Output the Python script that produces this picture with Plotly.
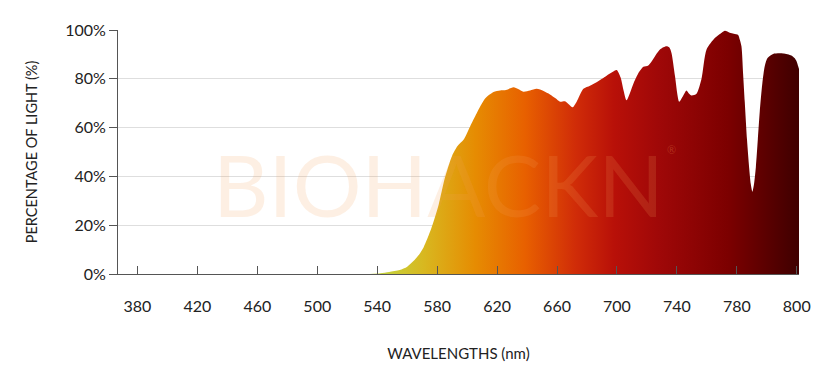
import plotly.graph_objects as go

# Wavelength positions (axis units, linear; the last tick at 820 is labelled "800" as in the source)
wavelength = [535, 542, 548, 555, 560, 564, 568, 571, 576, 581, 585, 590, 593.6, 597.6, 602,
              606.4, 612, 617.6, 622, 626, 631, 634, 637.6, 642, 646.4, 651, 655.3, 659, 662,
              665.3, 668, 670.4, 673.1, 677.6, 682, 686.4, 690, 693.1, 697, 699.8, 702.4, 704.5,
              706.4, 710.9, 714, 717.6, 720.9, 723, 728.7, 733.1, 735, 736.4, 738.7, 741.6, 743.8,
              746.4, 748, 749.8, 753.1, 756.4, 759.8, 765.3, 769, 772, 775.3, 778, 780.9, 782,
              783.1, 784.2, 785.3, 786.8, 788.2, 789.3, 790.4, 791.5, 792.7, 794, 795.3, 797,
              798.7, 800.5, 804.2, 810.9, 816.4, 818.5, 819.8, 821, 821.5]
percent = [0, 0.3, 0.8, 1.6, 3.0, 5.2, 8.0, 11, 18.5, 28.4, 39, 48.5, 52.5, 55, 60.5,
           65.9, 71.9, 74.6, 75.2, 75.4, 76.5, 75.8, 74.7, 75.2, 75.9, 75, 73.6, 72, 70.6,
           70.8, 69.5, 68.3, 70.6, 75.9, 77.2, 78.6, 80, 81.3, 82.8, 83.6, 80.6, 75,
           71.2, 77.9, 82, 84.9, 85.5, 87, 92, 93.3, 92.8, 90.6, 81.3, 70.6, 72.6,
           75.2, 74, 73.2, 73.9, 79.9, 92, 96.7, 98.5, 99.7, 98.9, 98.5, 98, 96,
           93.3, 82, 70.6, 55, 43.8, 37, 33.7, 37, 43.8, 55, 66.5, 78,
           85.3, 88.5, 90.2, 90.4, 89.6, 88.5, 87.3, 85, 84]

tick_vals = [380, 420, 460, 500, 540, 580, 620, 660, 700, 740, 780, 820]
tick_text = ["380", "420", "460", "500", "540", "580", "620", "660", "700", "740", "780", "800"]
y_ticks = [0, 20, 40, 60, 80, 100]
y_text = ["0%", "20%", "40%", "60%", "80%", "100%"]

gradient = [
    [0.00, "#c8d848"],
    [0.04, "#c6d03a"],
    [0.125, "#d8b820"],
    [0.245, "#e68c02"],
    [0.362, "#e86000"],
    [0.48, "#d02c08"],
    [0.57, "#b81008"],
    [0.67, "#a00808"],
    [0.835, "#7c0000"],
    [0.975, "#480000"],
    [1.00, "#400000"],
]

FONT = "Lato"

fig = go.Figure()
fig.add_trace(go.Scatter(
    x=wavelength, y=percent, mode="lines",
    line=dict(width=0, color="rgba(0,0,0,0)", shape="spline", smoothing=0.7),
    fill="tozeroy",
    fillgradient=dict(type="horizontal", colorscale=gradient, start=535, stop=821.5),
    hoverinfo="skip", showlegend=False,
))

# faint watermark
fig.add_annotation(x=0.47, y=0.37, xref="paper", yref="paper", text="BIOHACKN",
                   showarrow=False, xanchor="center", yanchor="middle",
                   font=dict(family=FONT, size=86, color="rgba(245,160,90,0.17)", weight=400))
fig.add_annotation(x=0.822, y=0.51, xref="paper", yref="paper", text="®",
                   showarrow=False, font=dict(family=FONT, size=11, color="rgba(245,160,90,0.28)"))

fig.update_layout(
    width=832, height=368,
    margin=dict(l=110, r=41, t=17, b=102),
    paper_bgcolor="white", plot_bgcolor="white",
    font=dict(family=FONT, color="#222222"),
    xaxis=dict(
        range=[367, 821.5], tickvals=tick_vals, ticktext=tick_text,
        ticks="inside", ticklen=8, tickcolor="#555555", tickwidth=1,
        showline=True, linecolor="#555555", linewidth=1,
        showgrid=False, zeroline=False,
        tickfont=dict(size=16, color="#222222"),
        ticklabelstandoff=18,
        title=dict(text="WAVELENGTHS (nm)", font=dict(size=15, color="#222222"), standoff=34),
    ),
    yaxis=dict(
        range=[0, 100], tickvals=y_ticks, ticktext=y_text,
        ticks="outside", ticklen=8, tickcolor="#555555", tickwidth=1,
        showline=True, linecolor="#555555", linewidth=1,
        showgrid=True, gridcolor="#dedede", gridwidth=1, zeroline=False,
        tickfont=dict(size=16, color="#222222"),
        title=dict(text="PERCENTAGE OF LIGHT (%)", font=dict(size=14.5, color="#222222"), standoff=24),
    ),
)

fig.write_html("out.html")
